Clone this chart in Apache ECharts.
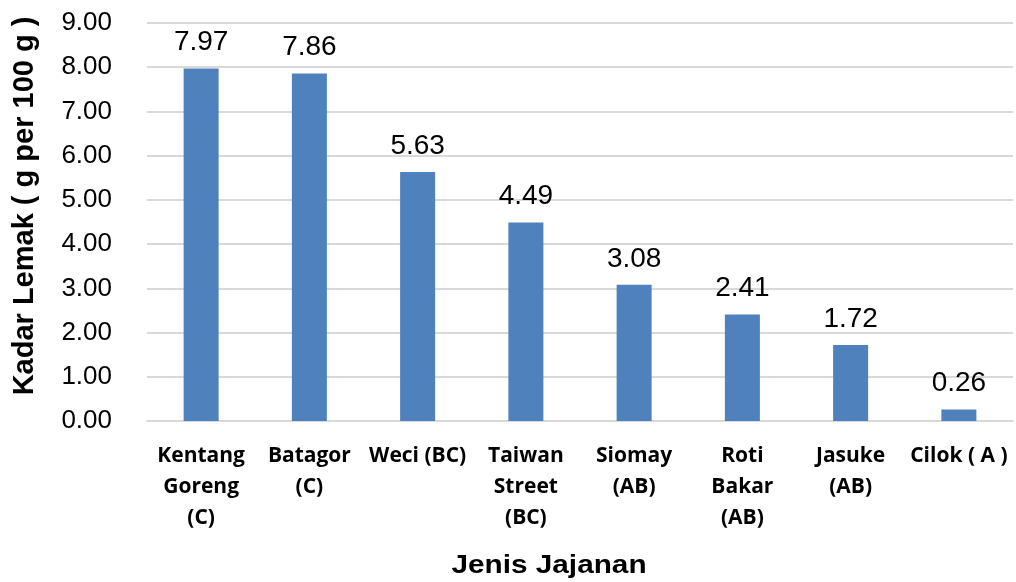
<!DOCTYPE html>
<html>
<head>
<meta charset="utf-8">
<script src="https://cdn.jsdelivr.net/npm/echarts@6/dist/echarts.min.js"></script>
<style>
  html, body { margin: 0; padding: 0; background: #fff; }
  #chart { width: 1016px; height: 582px; }
</style>
</head>
<body>
<div id="chart"></div>
<script>
// Fat content per snack type (g per 100 g)
const categories = [
  'Kentang\nGoreng\n(C)',
  'Batagor\n(C)',
  'Weci (BC)',
  'Taiwan\nStreet\n(BC)',
  'Siomay\n(AB)',
  'Roti\nBakar\n(AB)',
  'Jasuke\n(AB)',
  'Cilok ( A )'
];
const fatValues = [7.97, 7.86, 5.63, 4.49, 3.08, 2.41, 1.72, 0.26];
const yTitle = 'Kadar Lemak ( g per 100 g )';
const xTitle = 'Jenis Jajanan';

const chart = echarts.init(document.getElementById('chart'), null, { renderer: 'canvas' });

chart.setOption({
  animation: false,
  backgroundColor: '#ffffff',
  grid: { left: 147, right: 3, top: 23, bottom: 161, containLabel: false },
  xAxis: {
    type: 'category',
    data: categories,
    axisLine: { show: true, lineStyle: { color: '#d9d9d9', width: 2 } },
    axisTick: { show: false },
    axisLabel: {
      interval: 0,
      margin: 20,
      fontFamily: 'Open Sans',
      fontWeight: 'bold',
      fontSize: 21,
      lineHeight: 31,
      color: '#000000'
    }
  },
  yAxis: {
    type: 'value',
    min: 0,
    max: 9,
    interval: 1,
    axisLine: { show: false },
    axisTick: { show: false },
    splitLine: { show: true, lineStyle: { color: '#d9d9d9', width: 2 } },
    axisLabel: {
      margin: 35,
      fontFamily: 'Liberation Sans',
      fontSize: 26,
      color: '#000000',
      formatter: v => v.toFixed(2)
    }
  },
  graphic: [
    {
      type: 'text',
      x: 549,
      y: 566,
      scaleX: 1.19,
      style: {
        text: xTitle,
        fontFamily: 'Liberation Sans',
        fontWeight: 'bold',
        fontSize: 25,
        fill: '#000000',
        align: 'center',
        verticalAlign: 'middle'
      }
    },
    {
      type: 'text',
      x: 25,
      y: 206,
      rotation: Math.PI / 2,
      style: {
        text: yTitle,
        fontFamily: 'Liberation Sans',
        fontWeight: 'bold',
        fontSize: 29,
        fill: '#000000',
        align: 'center',
        verticalAlign: 'middle'
      }
    }
  ],
  series: [
    {
      type: 'bar',
      data: fatValues,
      barWidth: 35,
      itemStyle: { color: '#4f81bd' },
      label: {
        show: true,
        position: 'top',
        distance: 12,
        fontFamily: 'Liberation Sans',
        fontSize: 28,
        color: '#000000',
        formatter: p => p.value.toFixed(2)
      }
    }
  ]
});
</script>
</body>
</html>
